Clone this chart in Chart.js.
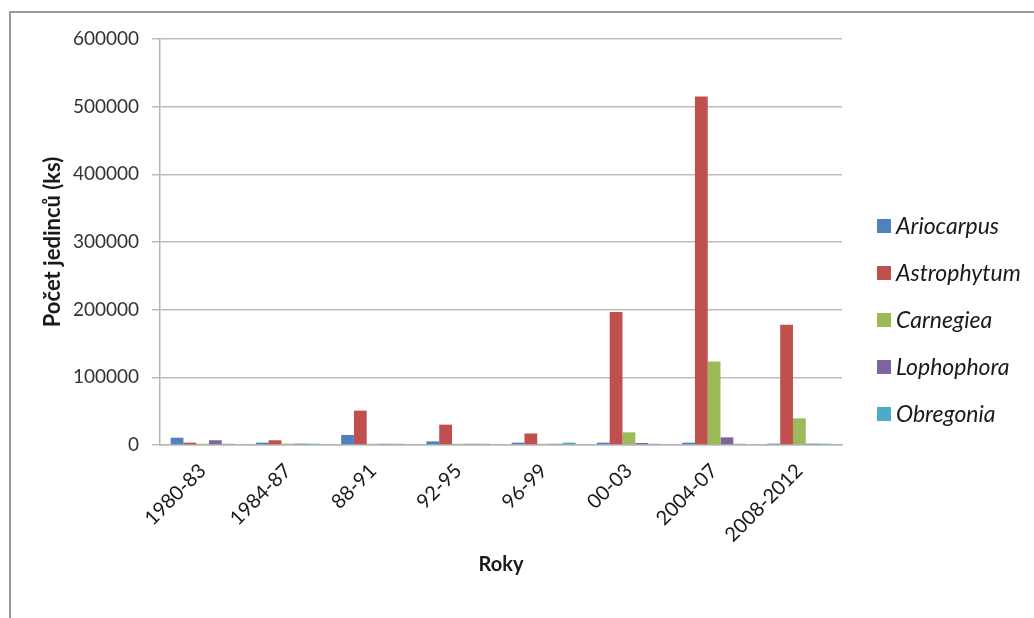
<!DOCTYPE html>
<html>
<head>
<meta charset="utf-8">
<script src="https://cdn.jsdelivr.net/npm/chart.js@4.4.1/dist/chart.umd.min.js"></script>
<style>
  html, body { margin: 0; padding: 0; background: #fff; }
  #wrap { position: relative; width: 1034px; height: 618px; overflow: hidden; }
  #frame { position: absolute; left: 9px; top: 11px; width: 1100px; height: 700px;
           border-left: 2px solid #9a9a9a; border-top: 2px solid #9a9a9a; box-sizing: border-box; }
  canvas { position: absolute; left: 0; top: 0; }
</style>
</head>
<body>
<div id="wrap">
  <div id="frame"></div>
  <canvas id="c" width="1034" height="618"></canvas>
</div>
<script>
// Periods (x axis categories)
const periods = ['1980-83', '1984-87', '88-91', '92-95', '96-99', '00-03', '2004-07', '2008-2012'];

// Number of individuals per genus and period
const ariocarpus  = [10800, 3500, 14800, 5300, 3500, 3500, 3500, 2000];
const astrophytum = [3500, 7000, 50800, 30100, 17000, 196500, 515000, 177800];
const carnegiea   = [1800, 2000, 1800, 1800, 1800, 18700, 123400, 39400];
const lophophora  = [7000, 2000, 1800, 1800, 1800, 3000, 11300, 2000];
const obregonia   = [1800, 2000, 1800, 1800, 3500, 1800, 1800, 2000];

const genusNames  = ['Ariocarpus', 'Astrophytum', 'Carnegiea', 'Lophophora', 'Obregonia'];
const genusColors = ['#4F81BD', '#C0504D', '#9BBB59', '#8064A2', '#4BACC6'];
const seriesValues = [ariocarpus, astrophytum, carnegiea, lophophora, obregonia];

const yTicks = [0, 100000, 200000, 300000, 400000, 500000, 600000];

const FONT = 'Lato, "Open Sans", sans-serif';

// Legend on the right, one row per genus
const sideLegend = {
  id: 'sideLegend',
  afterDraw(chart) {
    const ctx = chart.ctx;
    ctx.save();
    ctx.font = 'italic 23px ' + FONT;
    ctx.textBaseline = 'middle';
    ctx.textAlign = 'left';
    chart.data.datasets.forEach((ds, i) => {
      const cy = 226 + i * 47;
      ctx.fillStyle = ds.backgroundColor;
      ctx.fillRect(877, cy - 7, 14, 14);
      ctx.fillStyle = '#1a1a1a';
      ctx.fillText(ds.label, 896, cy + 1);
    });
    ctx.restore();
  }
};

new Chart(document.getElementById('c'), {
  type: 'bar',
  data: {
    labels: periods,
    datasets: genusNames.map((name, i) => ({
      label: name,
      data: seriesValues[i],
      backgroundColor: genusColors[i],
      borderWidth: 0,
      categoryPercentage: 0.75,
      barPercentage: 1.0
    }))
  },
  options: {
    responsive: false,
    animation: false,
    layout: { padding: { left: 10, top: 39, right: 192, bottom: 30 } },
    plugins: { legend: { display: false }, tooltip: { enabled: false } },
    scales: {
      x: {
        grid: { display: false },
        border: { display: true, color: '#b5b5b5', width: 1.5 },
        ticks: {
          color: '#1a1a1a',
          font: { family: FONT, size: 20 },
          minRotation: 45, maxRotation: 45,
          padding: 6
        },
        title: {
          display: true, text: 'Roky', color: '#1a1a1a',
          font: { family: FONT, size: 20, weight: 'bold' },
          padding: { bottom: 11 }
        },
        afterFit(scale) { scale.height = 143; }
      },
      y: {
        min: 0, max: 600000,
        afterBuildTicks(scale) { scale.ticks = yTicks.map(v => ({ value: v })); },
        grid: { color: '#bdbdbd', lineWidth: 1.5, tickLength: 8, drawTicks: true },
        border: { display: true, color: '#b5b5b5', width: 1.5 },
        ticks: {
          color: '#333',
          font: { family: FONT, size: 19 },
          padding: 13,
          callback: v => String(v)
        },
        title: {
          display: true, text: 'Počet jedinců (ks)', color: '#1a1a1a',
          font: { family: FONT, size: 22, weight: 'bold' },
          padding: { top: 30 }
        },
        afterFit(scale) { scale.width = 150; }
      }
    }
  },
  plugins: [sideLegend]
});
</script>
</body>
</html>
